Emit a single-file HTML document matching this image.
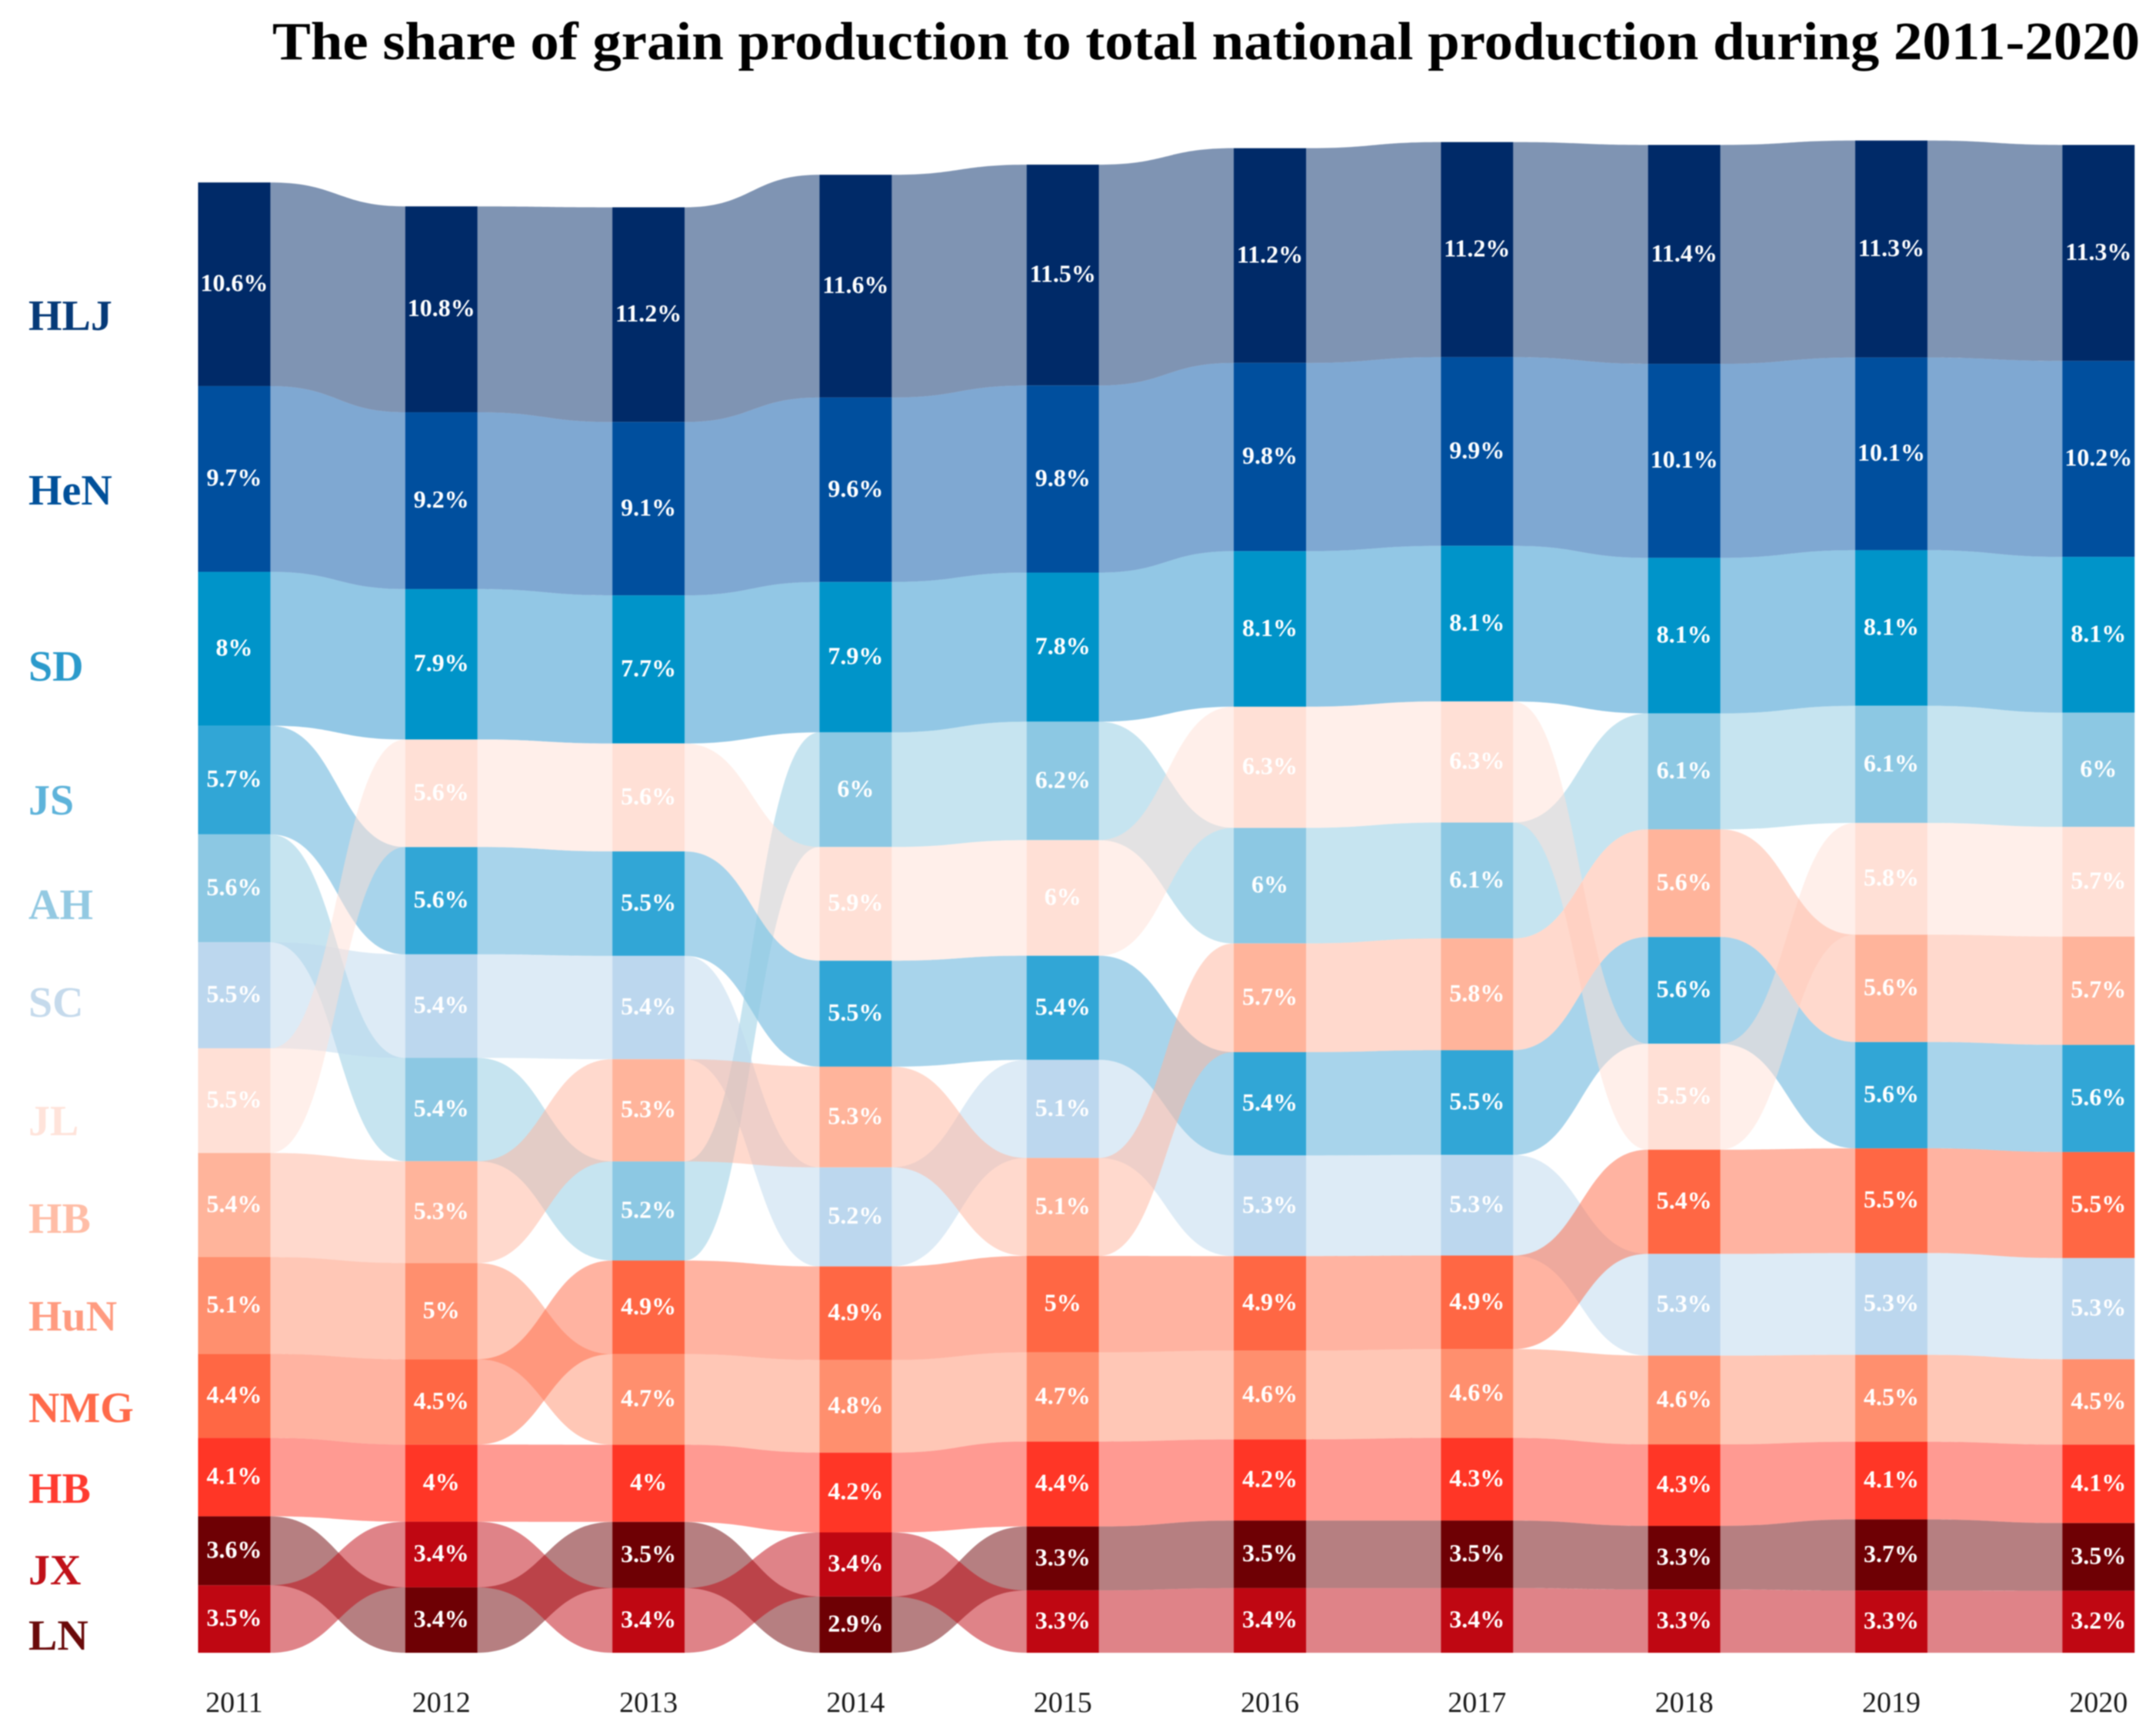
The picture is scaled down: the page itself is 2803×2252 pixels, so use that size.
<!DOCTYPE html>
<html lang="en">
<head>
<meta charset="utf-8">
<title>The share of grain production to total national production during 2011-2020</title>
<style>
  html, body { margin: 0; padding: 0; background: #ffffff; }
  svg { display: block; font-family: "Liberation Serif", serif; filter: blur(0.7px); }
  .value { font-size: 32px; font-weight: 700; fill: #ffffff; text-anchor: middle; }
  .tick { font-size: 38px; fill: #1a1a1a; text-anchor: middle; }
  .prov { font-size: 56px; font-weight: 700; }
</style>
</head>
<body>
<svg id="chart" xmlns="http://www.w3.org/2000/svg" width="2803" height="2252" viewBox="0 0 2803 2252">
  <rect x="0" y="0" width="2803" height="2252" fill="#ffffff"/>
  <text x="354" y="77" font-size="70" font-weight="700" fill="#000000" textLength="2428" lengthAdjust="spacingAndGlyphs">The share of grain production to total national production during 2011-2020</text>
  <g id="ribbons"></g>
  <g id="bars"></g>
  <g id="labels"></g>
  <g id="ticks"></g>
  <g>
    <text class="prov" x="37" y="429" fill="#063a78">HLJ</text>
    <text class="prov" x="37" y="656" fill="#00509a">HeN</text>
    <text class="prov" x="37" y="885" fill="#2b9acb">SD</text>
    <text class="prov" x="37" y="1059" fill="#5eb3da">JS</text>
    <text class="prov" x="37" y="1195" fill="#93c9e2">AH</text>
    <text class="prov" x="37" y="1322" fill="#c5daec">SC</text>
    <text class="prov" x="37" y="1476" fill="#ffe3da">JL</text>
    <text class="prov" x="37" y="1603" fill="#ffbda6">HB</text>
    <text class="prov" x="37" y="1730" fill="#ff9b80">HuN</text>
    <text class="prov" x="37" y="1849" fill="#ff6a4a">NMG</text>
    <text class="prov" x="37" y="1954" fill="#ff3b30">HB</text>
    <text class="prov" x="37" y="2060" fill="#c01018">JX</text>
    <text class="prov" x="37" y="2145" fill="#6a0a0a">LN</text>
  </g>
</svg>
<script>
// Chart data: share (%) of national grain production.
const years = ["2011","2012","2013","2014","2015","2016","2017","2018","2019","2020"];
const seriesNames = ["HLJ","HeN","SD","JS","AH","SC","JL","HB","HuN","NMG","HB2","LN","JX"];
const HLJ  = [10.64,10.76,11.22,11.64,11.54,11.22,11.24,11.44,11.34,11.29];
const HeN  = [9.71,9.24,9.06,9.64,9.78,9.84,9.86,10.14,10.07,10.24];
const SD   = [8.04,7.86,7.74,7.86,7.79,8.13,8.13,8.13,8.13,8.14];
const JS   = [5.68,5.61,5.46,5.54,5.44,5.40,5.47,5.58,5.56,5.60];
const AH   = [5.64,5.40,5.18,5.99,6.19,6.04,6.06,6.06,6.12,5.97];
const SC   = [5.54,5.41,5.40,5.18,5.13,5.26,5.26,5.32,5.32,5.29];
const JL   = [5.47,5.62,5.64,5.94,6.04,6.33,6.33,5.54,5.84,5.73];
const HB   = [5.44,5.32,5.34,5.26,5.12,5.68,5.84,5.62,5.61,5.66];
const HuN  = [5.06,5.03,4.74,4.84,4.66,4.64,4.64,4.64,4.54,4.46];
const NMG  = [4.39,4.46,4.89,4.89,5.04,4.94,4.89,5.44,5.47,5.54];
const HB2  = [4.10,4.03,4.03,4.17,4.44,4.24,4.32,4.26,4.06,4.10];
const LN   = [3.60,3.42,3.46,2.94,3.34,3.53,3.53,3.32,3.72,3.54];
const JX   = [3.53,3.43,3.38,3.35,3.26,3.38,3.38,3.31,3.25,3.24];
const seriesValues = [HLJ,HeN,SD,JS,AH,SC,JL,HB,HuN,NMG,HB2,LN,JX];

// Presentation
const barColor = { HLJ:"#002a68", HeN:"#004f9e", SD:"#0094c9", JS:"#31a6d6", AH:"#8cc8e3", SC:"#bcd7ee", JL:"#ffe0d6", HB:"#ffb49b", HuN:"#ff8f6e", NMG:"#ff6744", HB2:"#ff3626", LN:"#6e0004", JX:"#bf0712" };
const ribbonColor = { HLJ:"#002a68", HeN:"#0051a5", SD:"#258fcb", JS:"#51a9d7", AH:"#8dc9e1", SC:"#bcd7ee", JL:"#ffe0d6", HB:"#ffb49b", HuN:"#ff8f6e", NMG:"#ff6744", HB2:"#ff3626", LN:"#6e0004", JX:"#bf0712" };
const NS = "http://www.w3.org/2000/svg";
const BAND_START = 257.5, BAND_STEP = 269.3, BAND_WIDTH = 94;
const BASELINE = 2149, PX_PER_PERCENT = 24.88, CURVE = 0.5;

function xScale(i) { return BAND_START + BAND_STEP * i; }
function hScale(v) { return v * PX_PER_PERCENT; }
function formatValue(v) { return String(Number(v.toFixed(1))) + "%"; }

// Each year's stack is ordered by value: largest on top.
function stackYear(yearIndex) {
  const order = seriesNames.map(function (_, s) { return s; })
    .sort(function (a, b) { return seriesValues[a][yearIndex] - seriesValues[b][yearIndex]; });
  const pos = {};
  let y = BASELINE;
  order.forEach(function (s) {
    const h = hScale(seriesValues[s][yearIndex]);
    pos[s] = { top: y - h, bottom: y };
    y -= h;
  });
  return pos;
}
const stacks = years.map(function (_, i) { return stackYear(i); });

function edge(x0, y0, x1, y1) {
  const w = x1 - x0;
  return "C" + (x0 + CURVE * w) + " " + y0 + " " + (x1 - CURVE * w) + " " + y1 + " " + x1 + " " + y1;
}

const ribbonLayer = document.getElementById("ribbons");
const barLayer = document.getElementById("bars");
const labelLayer = document.getElementById("labels");
const tickLayer = document.getElementById("ticks");

seriesNames.forEach(function (name, s) {
  for (let i = 0; i < years.length - 1; i++) {
    const a = stacks[i][s], b = stacks[i + 1][s];
    const x0 = xScale(i) + BAND_WIDTH, x1 = xScale(i + 1);
    const d = "M" + x0 + " " + a.top + edge(x0, a.top, x1, b.top) +
              "L" + x1 + " " + b.bottom + edge(x1, b.bottom, x0, a.bottom) + "Z";
    const ribbon = document.createElementNS(NS, "path");
    ribbon.setAttribute("d", d);
    ribbon.setAttribute("fill", ribbonColor[name]);
    ribbon.setAttribute("fill-opacity", "0.5");
    
    
    ribbonLayer.appendChild(ribbon);
  }
});

years.forEach(function (year, i) {
  seriesNames.forEach(function (name, s) {
    const p = stacks[i][s];
    const bar = document.createElementNS(NS, "rect");
    bar.setAttribute("x", xScale(i));
    bar.setAttribute("y", p.top);
    bar.setAttribute("width", BAND_WIDTH);
    bar.setAttribute("height", p.bottom - p.top);
    bar.setAttribute("fill", barColor[name]);
    
    
    barLayer.appendChild(bar);

    const label = document.createElementNS(NS, "text");
    label.setAttribute("class", "value");
    label.setAttribute("x", xScale(i) + BAND_WIDTH / 2);
    label.setAttribute("y", (p.top + p.bottom) / 2 + 9);
    label.textContent = formatValue(seriesValues[s][i]);
    
    
    labelLayer.appendChild(label);
  });

  const tick = document.createElementNS(NS, "text");
  tick.setAttribute("class", "tick");
  tick.setAttribute("x", xScale(i) + BAND_WIDTH / 2);
  tick.setAttribute("y", 2226);
  tick.textContent = year;
  
  
  tickLayer.appendChild(tick);
});
</script>
</body>
</html>
